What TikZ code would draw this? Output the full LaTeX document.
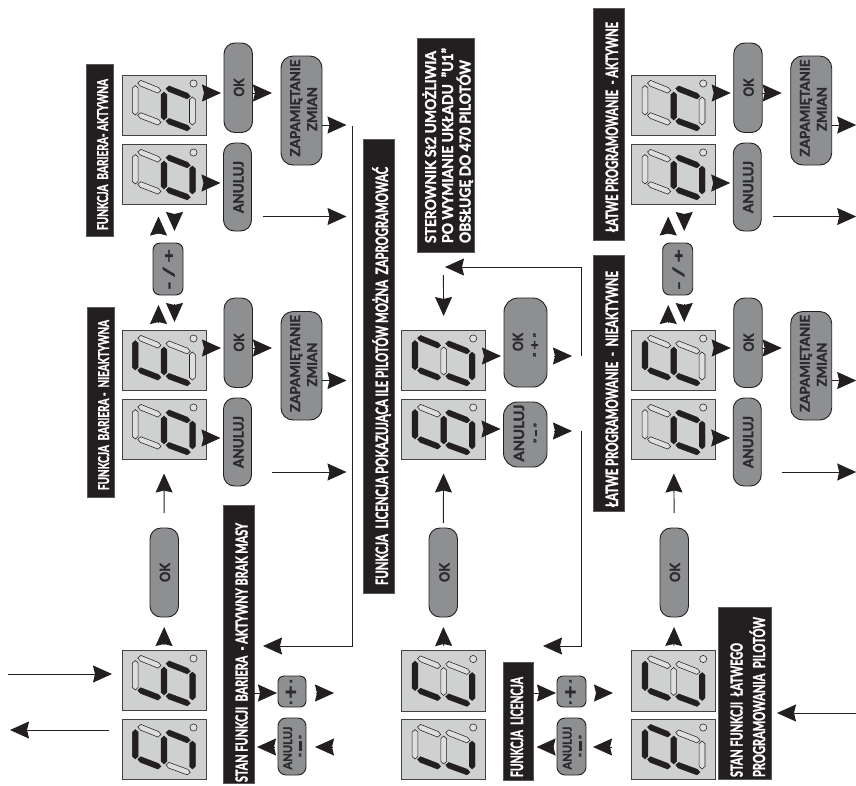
\documentclass[tikz,border=0pt]{standalone}
\usepackage{fontspec}
\usepackage{graphicx}
\usetikzlibrary{arrows.meta,calc}
\newfontfamily\lf{Lato}[BoldFeatures={FakeBold=2}]
\definecolor{ink}{HTML}{231F20}
\definecolor{dispfill}{HTML}{CFD0D0}
\definecolor{btnfill}{HTML}{8E8F91}
\definecolor{btntext}{HTML}{2B2B2D}
\definecolor{seglight}{HTML}{DEDEDE}
\newsavebox\fitbox
\newcommand\fitw[2]{\sbox\fitbox{#2}\pgfmathsetmacro\fitr{#1/\the\wd\fitbox}\scalebox{\fitr}[1]{\usebox\fitbox}}
\newcommand\smq[2]{{\fontsize{#1}{#1}\selectfont\raisebox{#2}{”}}}
\tikzset{
  dispbox/.style={draw=ink!85,line width=.9pt,fill=dispfill,minimum width=84pt,minimum height=60.5pt,inner sep=0,outer sep=0},
  btnbox/.style={draw=ink,line width=.9pt,fill=btnfill,inner sep=0,outer sep=0},
  labbox/.style={fill=ink,draw=ink!75,line width=.5pt,inner sep=0,outer sep=0},
  ltx/.style={rotate=90,anchor=base,inner sep=0,text=white},
  btx/.style={rotate=90,anchor=base,inner sep=0,text=btntext},
  sg0/.style={fill=seglight,draw=ink,line width=.55pt},
  sg1/.style={fill=ink,draw=ink,line width=.4pt},
  conn/.style={draw=ink,line width=.95pt,-{Stealth[length=19pt,width=17pt,inset=2pt]}},
}
\newcommand\segV[4]{\path[sg#4] (#1,#2)--({#1+2.9},{#2+2.6})--({#1+2.9},{#3-2.6})--(#1,#3)--({#1-2.9},{#3-2.6})--({#1-2.9},{#2+2.6})--cycle;}
\newcommand\segH[5]{\path[sg#5] (#1,#2)--({#1+3},{#2-2.6})--({#3-2.5},{#4-3})--(#3,#4)--({#3-3},{#4+2.6})--({#1+2.5},{#2+3})--cycle;}
\def\dsegs#1#2#3#4#5#6#7{%
  \segV{13.3}{10.5}{40}{#1}%
  \segH{15.8}{8}{39}{15.5}{#2}%
  \segH{15.8}{40.3}{39}{47.5}{#3}%
  \segV{42}{17}{45}{#4}%
  \segH{44}{13.5}{68.3}{21.3}{#5}%
  \segH{44}{46}{68.3}{53.3}{#6}%
  \segV{70.4}{22}{50}{#7}%
}
\newcommand\Disp[4]{%
  \node[dispbox] (#1) at ({#2+42},{#3+30.25}) {};
  \begin{scope}[shift={({#2},{#3})}]
    \dsegs#4
    \path[fill=seglight,draw=ink,line width=.55pt] (71.5,8.5) circle (3.6pt);
  \end{scope}}
\newcommand\Btn[6]{\node[btnbox,rounded corners=#2pt,minimum width={((#5)-(#3))*1pt},minimum height={((#6)-(#4))*1pt}] (#1) at ({((#3)+(#5))/2},{((#4)+(#6))/2}) {};}
\newcommand\Lab[5]{\node[labbox,minimum width={(#4-#2)*1pt},minimum height={(#5-#3)*1pt}] (#1) at ({(#2+#4)/2},{(#3+#5)/2}) {};}
\newcommand\Lt[6]{\node[ltx] (#1) at ({#2},{#3}) {\fitw{#4}{\fontsize{#5}{#5}\lf\bfseries #6}};}
\newcommand\Bt[6]{\node[btx] (#1) at ({#2},{#3}) {\fitw{#4}{\fontsize{#5}{#5}\lf\bfseries #6}};}
\newcommand\Grp[2]{%
  \Disp{#1da}{#2+122}{75}{0001110}
  \Disp{#1db}{#2+122}{144}{0001111}
  \Disp{#1dc}{#2+122}{330}{1011010}
  \Disp{#1dd}{#2+122}{399}{0001111}
  \Btn{#1oka}{11}{#2+224}{43}{#2+252.5}{132.5}
  \Btn{#1ana}{11}{#2+223.5}{143}{#2+251.5}{231}
  \Btn{#1zaa}{12}{#2+281}{56}{#2+322}{165}
  \Btn{#1pm}{7}{#2+153}{243}{#2+183}{295}
  \Btn{#1okb}{11}{#2+224}{298}{#2+252.5}{387.5}
  \Btn{#1anb}{11}{#2+223.5}{398}{#2+251.5}{486}
  \Btn{#1zab}{12}{#2+281}{311.5}{#2+322}{420}
  \Bt{#1toka}{#2+244}{87.5}{18}{14}{OK}
  \Bt{#1tana}{#2+243.5}{187}{52}{14}{ANULUJ}
  \Bt{#1tzaa}{#2+300}{108}{97}{13.5}{ZAPAMIĘTANIE}
  \Bt{#1tzab}{#2+317}{109}{44}{13.5}{ZMIAN}
  \Bt{#1tpm}{#2+174}{269.5}{41}{15}{-\,/\,+}
  \Bt{#1tokb}{#2+244}{342.5}{18}{14}{OK}
  \Bt{#1tanb}{#2+243.5}{442}{52}{14}{ANULUJ}
  \Bt{#1tzac}{#2+300}{363.5}{97}{13.5}{ZAPAMIĘTANIE}
  \Bt{#1tzad}{#2+317}{364.5}{44}{13.5}{ZMIAN}
  \draw[conn,shorten >=3pt] (#1da.east |- 0,93) -- (#1oka.west |- 0,93);
  \draw[conn,shorten >=9pt] (#1oka.east |- 0,93) -- (#1zaa.west |- 0,93);
  \draw[conn,shorten >=3pt] (#1db.east |- 0,183) -- (#1ana.west |- 0,183);
  \draw[conn,shorten >=3pt] (#1dc.east |- 0,348) -- (#1okb.west |- 0,348);
  \draw[conn,shorten >=9pt] (#1okb.east |- 0,348) -- (#1zab.west |- 0,348);
  \draw[conn,shorten >=3pt] (#1dd.east |- 0,438) -- (#1anb.west |- 0,438);
  \coordinate (#1o1) at ({#2+346.5},125);
  \coordinate (#1o2) at ({#2+346.5},216.5);
  \coordinate (#1o3) at ({#2+346.5},380.5);
  \coordinate (#1o4) at ({#2+346.5},472);
  \draw[conn] (#1zaa.east |- #1o1) -- (#1o1);
  \draw[conn,shorten <=11.5pt] (#1ana.east |- #1o2) -- (#1o2);
  \draw[conn] (#1zab.east |- #1o3) -- (#1o3);
  \draw[conn,shorten <=20.5pt] (#1anb.east |- #1o4) -- (#1o4);
  \coordinate (#1u1) at ({#2+158.5},0);
  \coordinate (#1u2) at ({#2+174.5},0);
  \draw[conn,shorten >=12pt,shorten <=9pt] (#1pm.north -| #1u1) -- (#1db.south -| #1u1);
  \draw[conn,shorten >=12pt,shorten <=9pt] (#1db.south -| #1u2) -- (#1pm.north -| #1u2);
  \draw[conn,shorten >=10pt,shorten <=7pt] (#1dc.north -| #1u1) -- (#1pm.south -| #1u1);
  \draw[conn,shorten >=8pt,shorten <=9pt] (#1pm.south -| #1u2) -- (#1dc.north -| #1u2);
}
\begin{document}
\begin{tikzpicture}[x=1pt,y=-1pt]
\useasboundingbox (0,0) rectangle (856,785);
% label bars
\Lab{lbA}{86}{64}{113.5}{236}
\Lab{lbB}{87}{307}{114.5}{497}
\Lab{lbS}{223}{505}{254}{783}
\Lab{lbL}{363.5}{139}{394}{593}
\Lab{lbT}{417}{38}{474}{252}
\Lab{lbF}{503}{662}{533.5}{780}
\Lab{lbR}{593.5}{8}{624}{240}
\Lab{lbQ}{593.5}{255}{624}{511}
\Lab{lbZ}{718}{607}{771}{779}
\Lt{tA}{108}{154.5}{151}{15}{FUNKCJA\ \ BARIERA- AKTYWNA}
\Lt{tB}{109}{405}{170}{15}{FUNKCJA\ \ BARIERA\ -\ \ NIEAKTYWNA}
\Lt{tS}{247.5}{652.5}{259}{16.5}{STAN FUNKCJI\ \ BARIERA\ \ - AKTYWNY BRAK MASY}
\Lt{tL}{388}{376}{418}{17}{FUNKCJA\ \ LICENCJA POKAZUJĄCA ILE PILOTÓW MOŻNA\ \ ZAPROGRAMOWAĆ}
\Lt{tT1}{436}{147}{192}{15}{STEROWNIK St2 UMOŻLIWIA}
\Lt{tT2}{453}{145.5}{195}{15}{PO WYMIANIE UKŁADU\ \ ”U1”}
\Lt{tT3}{470.5}{151.5}{183}{15}{OBSŁUGĘ DO 470 PILOTÓW}
\Lt{tF}{523}{727}{100}{17}{FUNKCJA\ \ LICENCJA}
\Lt{tR}{618}{127}{210}{17}{ŁATWE PROGRAMOWANIE\ \ - AKTYWNE}
\Lt{tQ}{618}{389}{236}{17}{ŁATWE PROGRAMOWANIE\ \ -\ \ NIEAKTYWNE}
\Lt{tZ1}{742.5}{710}{134}{16.5}{STAN FUNKCJI\ \ ŁATWEGO}
\Lt{tZ2}{765}{697}{160}{16.5}{PROGRAMOWANIA\ \ PILOTÓW}
% repeated groups
\Grp{A}{0}
\Grp{R}{509.7}
% lower left column
\Disp{dL1}{122}{650}{0011111}
\Disp{dL2}{122}{719}{1011101}
\Btn{okL}{11}{150}{528}{178.5}{617}
\Btn{plL}{6}{278}{676}{306}{707}
\Btn{anL}{8}{278}{718}{306}{775}
\Bt{tokL}{170}{572.5}{19}{14}{OK}
\Bt{tplL}{297.5}{692}{25}{14}{\smq{8}{1.6pt}\,{\fontsize{20}{20}\selectfont +}\,\smq{8}{1.6pt}}
\Bt{tanL1}{292}{748}{43}{12}{ANULUJ}
\Bt{tanL2}{303}{746}{22}{11}{\smq{8}{-2pt}\,\rule[1pt]{7pt}{3.5pt}\,\smq{8}{-2pt}}
% middle column
\Disp{dM1}{401.7}{650.5}{1010011}
\Disp{dM2}{401.7}{719}{0010011}
\Disp{dM3}{401.7}{330}{1110111}
\Disp{dM4}{401.7}{399}{1011111}
\Btn{okM}{11}{429}{528}{457.5}{617}
\Btn{okP}{14}{504}{298}{547}{387}
\Btn{anP}{14}{503.5}{402}{547}{467}
\Btn{plM}{6}{557}{676}{586}{707}
\Btn{anM}{8}{557}{718}{586}{775}
\Bt{tokM}{449.5}{572.5}{19}{14}{OK}
\Bt{tokP}{523}{342}{18}{14}{OK}
\Bt{tplP}{539}{345}{24}{13}{\smq{9}{-1pt}\,+\,\smq{9}{-1pt}}
\Bt{tanP1}{524}{433}{57}{14}{ANULUJ}
\Bt{tanP2}{538}{433}{20}{13}{\smq{9}{-2.5pt}\,\rule[.8pt]{5pt}{2.2pt}\,\smq{9}{-2.5pt}}
\Bt{tplM}{577}{692}{25}{14}{\smq{8}{1.6pt}\,{\fontsize{20}{20}\selectfont +}\,\smq{8}{1.6pt}}
\Bt{tanM1}{571.5}{748}{43}{12}{ANULUJ}
\Bt{tanM2}{583}{746}{22}{11}{\smq{8}{-2pt}\,\rule[1pt]{7pt}{3.5pt}\,\smq{8}{-2pt}}
% lower right column
\Disp{dR1}{631.7}{650.5}{1010011}
\Disp{dR2}{631.7}{719}{1111010}
\Btn{okR}{11}{660}{528}{688.5}{617}
\Bt{tokR}{680}{572.5}{19}{14}{OK}
% connectors
\draw[conn,shorten >=10pt,shorten <=5pt] (dL1.north) -- (okL.south);
\draw[conn,shorten >=10pt,shorten <=5pt] (dM1.north) -- (okM.south);
\draw[conn,shorten >=10pt,shorten <=5pt] (dR1.north) -- (okR.south);
\draw[conn,shorten >=14pt,shorten <=15pt] (okL.north) -- (Add.south);
\draw[conn,shorten >=14pt,shorten <=5pt] (okM.north) -- (dM4.south);
\draw[conn,shorten >=14pt,shorten <=15pt] (okR.north) -- (Rdd.south);
\coordinate (inA) at (8,674);
\coordinate (outA) at (10,730);
\draw[conn,shorten >=10pt] (inA) -- (dL1.west |- inA);
\draw[conn,shorten <=13pt] (dL2.west |- outA) -- (outA);
% bus of first block
\coordinate (busA) at (352,126);
\coordinate (busB) at (352,646);
\draw[conn,shorten >=9pt] (busA) -- (busB) -- (lbS.east |- busB);
% small buttons, left
\coordinate (pE) at (334,693);
\coordinate (aE) at (333,747);
\draw[conn,shorten >=1pt] (lbS.east |- pE) -- (plL.west |- pE);
\draw[conn,shorten <=10pt] (plL.east |- pE) -- (pE);
\draw[conn,shorten >=3pt,shorten <=3pt] (anL.west |- aE) -- (lbS.east |- aE);
\draw[conn,shorten >=9pt] (aE) -- (anL.east |- aE);
% small buttons, middle
\coordinate (pF) at (613,693);
\coordinate (aF) at (612,747);
\draw[conn,shorten >=1pt] (lbF.east |- pF) -- (plM.west |- pF);
\draw[conn,shorten <=10pt] (plM.east |- pF) -- (pF);
\draw[conn,shorten >=3pt,shorten <=3pt] (anM.west |- aF) -- (lbF.east |- aF);
\draw[conn,shorten >=7pt] (aF) -- (anM.east |- aF);
% middle block
\draw[conn,shorten >=3pt] (dM3.east |- 0,356) -- (okP.west |- 0,356);
\draw[conn,shorten >=3pt] (dM4.east |- 0,429) -- (anP.west |- 0,429);
\coordinate (mA) at (581,356);
\coordinate (mB) at (581,267);
\coordinate (mC) at (445,267);
\coordinate (mD) at (581,431);
\coordinate (mE) at (581,646);
\coordinate (mF) at (543,646);
\coordinate (mG) at (443.4,275);
\draw[conn,shorten >=9pt,shorten <=7pt] (okP.east |- mA) -- (mA);
\draw[conn] (mA) -- (mB) -- (mC);
\draw[conn,shorten >=9pt,shorten <=7pt] (anP.east |- mD) -- (mD);
\draw[conn] (mD) -- (mE) -- (mF);
\draw[conn,shorten >=14pt] (mG) -- (dM3.north);
% bottom right
\coordinate (zI) at (856,713);
\draw[conn,shorten >=6pt] (zI) -- (lbZ.east |- zI);
\end{tikzpicture}
\end{document}
